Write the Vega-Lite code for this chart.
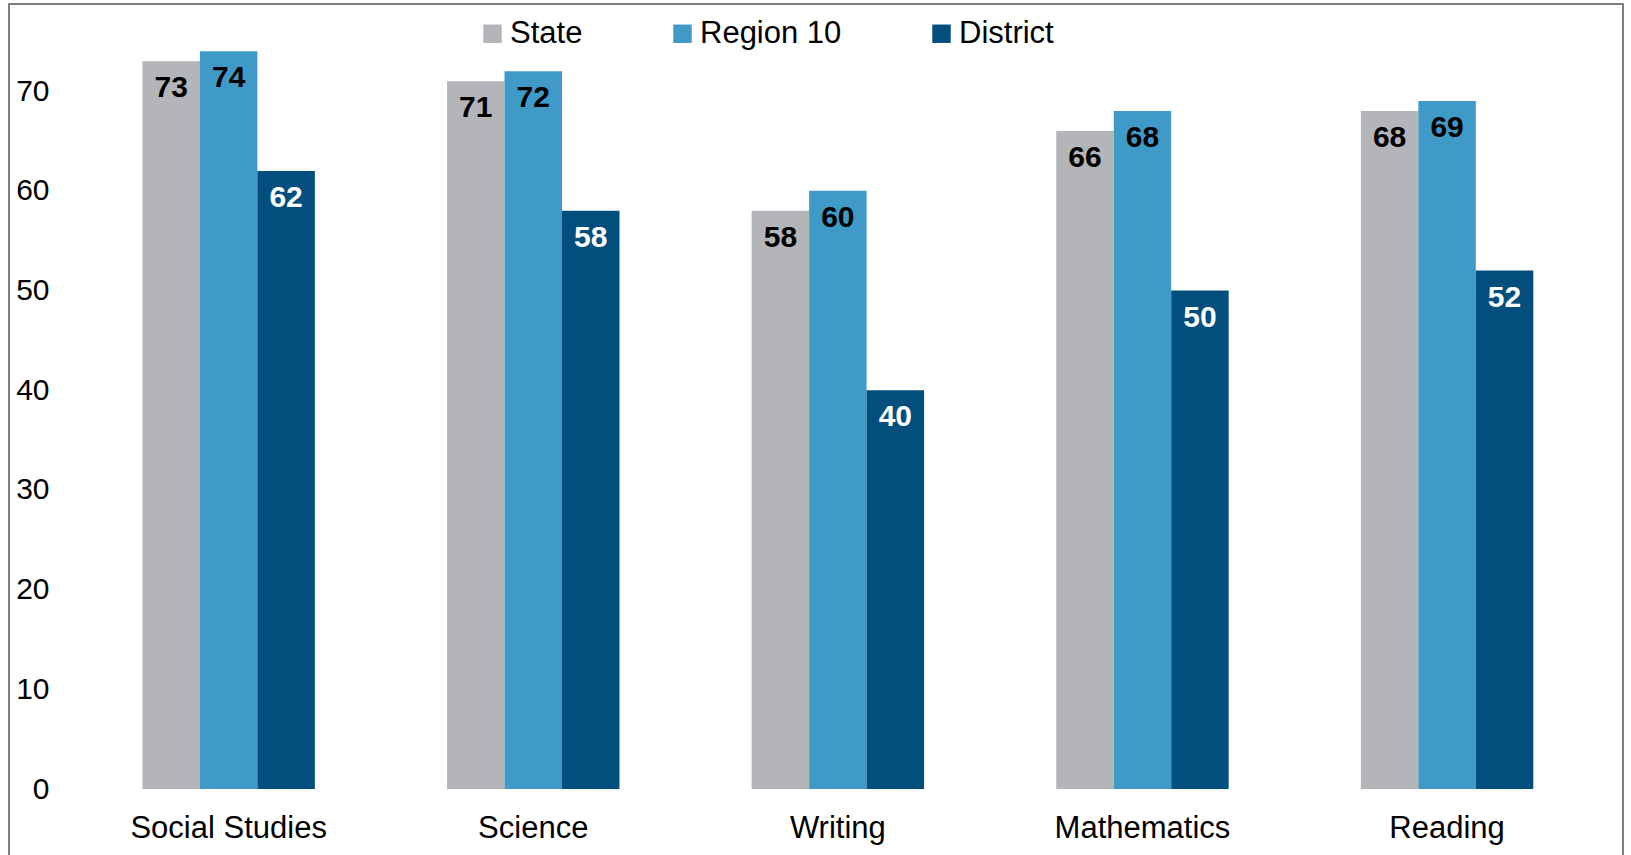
{
  "$schema": "https://vega.github.io/schema/vega-lite/v6.json",
  "autosize": {"type": "fit", "contains": "padding"},
  "width": 1631,
  "height": 855,
  "padding": {"left": 9, "top": 4, "right": 8, "bottom": -3},
  "background": "white",
  "config": {
    "view": {"stroke": "#555555", "strokeWidth": 1.5},
    "font": "Liberation Sans"
  },
  "data": {
    "values": [
      {"subject": "Social Studies", "group": "State", "value": 73},
      {"subject": "Social Studies", "group": "Region 10", "value": 74},
      {"subject": "Social Studies", "group": "District", "value": 62},
      {"subject": "Science", "group": "State", "value": 71},
      {"subject": "Science", "group": "Region 10", "value": 72},
      {"subject": "Science", "group": "District", "value": 58},
      {"subject": "Writing", "group": "State", "value": 58},
      {"subject": "Writing", "group": "Region 10", "value": 60},
      {"subject": "Writing", "group": "District", "value": 40},
      {"subject": "Mathematics", "group": "State", "value": 66},
      {"subject": "Mathematics", "group": "Region 10", "value": 68},
      {"subject": "Mathematics", "group": "District", "value": 50},
      {"subject": "Reading", "group": "State", "value": 68},
      {"subject": "Reading", "group": "Region 10", "value": 69},
      {"subject": "Reading", "group": "District", "value": 52}
    ]
  },
  "encoding": {
    "x": {
      "field": "subject",
      "type": "nominal",
      "sort": ["Social Studies", "Science", "Writing", "Mathematics", "Reading"],
      "scale": {"paddingInner": 0.434, "paddingOuter": 0.3663, "align": 0.598},
      "axis": {
        "title": null,
        "orient": "bottom",
        "offset": -69,
        "domain": false,
        "ticks": false,
        "grid": false,
        "labelAngle": 0,
        "labelFontSize": 31,
        "labelColor": "black",
        "labelBaseline": "middle",
        "labelPadding": 39,
        "labelLimit": 0
      }
    },
    "xOffset": {
      "field": "group",
      "type": "nominal",
      "sort": ["State", "Region 10", "District"],
      "scale": {"paddingInner": 0, "paddingOuter": 0}
    },
    "y": {
      "field": "value",
      "type": "quantitative",
      "stack": null,
      "scale": {"domain": [-6.92, 78.74], "nice": false},
      "axis": {
        "title": null,
        "orient": "left",
        "offset": -40,
        "domain": false,
        "ticks": false,
        "grid": false,
        "values": [0, 10, 20, 30, 40, 50, 60, 70],
        "labelFontSize": 30,
        "labelColor": "black",
        "labelPadding": 0
      }
    }
  },
  "layer": [
    {
      "mark": {"type": "bar"},
      "encoding": {
        "color": {
          "field": "group",
          "type": "nominal",
          "scale": {
            "domain": ["State", "Region 10", "District"],
            "range": ["#B4B5B9", "#3F9AC7", "#024E7C"]
          },
          "legend": {
            "title": null,
            "orient": "none",
            "direction": "horizontal",
            "legendX": 468,
            "legendY": 14,
            "padding": 0,
            "symbolType": "square",
            "symbolSize": 340,
            "symbolStrokeWidth": 0,
            "labelOffset": 2,
            "columnPadding": 84,
            "labelFontSize": 31,
            "labelColor": "black",
            "labelFont": "Liberation Sans"
          }
        }
      }
    },
    {
      "mark": {"type": "text", "fontSize": 30, "fontWeight": "bold", "baseline": "alphabetic", "dy": 36},
      "encoding": {
        "text": {"field": "value", "type": "quantitative"},
        "color": {
          "condition": {"test": "datum.group === 'District'", "value": "white"},
          "value": "black"
        }
      }
    }
  ]
}
